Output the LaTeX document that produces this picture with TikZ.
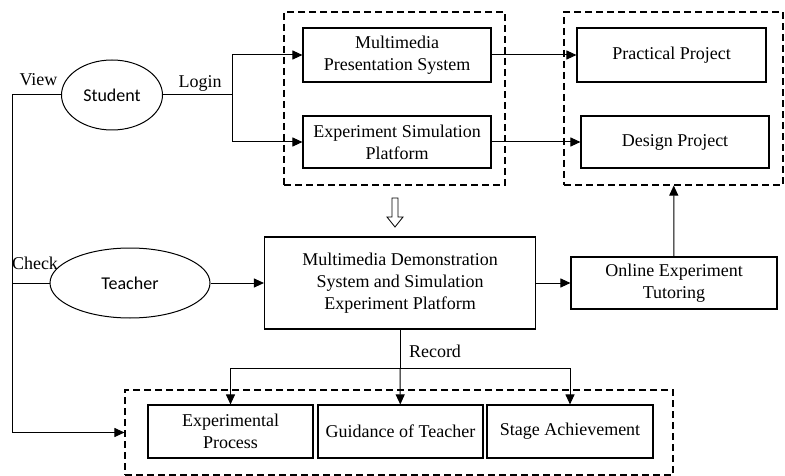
\documentclass[tikz,border=0pt]{standalone}
\usepackage{fontspec}
\setmainfont{Liberation Serif}
\newfontfamily\calibri{Carlito}
\usetikzlibrary{shapes,arrows.meta}
\tikzset{
	box/.style={rectangle,draw,line width=1.1pt,align=center,inner sep=2pt},
	oval/.style={ellipse,draw,line width=1pt,inner sep=0pt,font=\fontsize{18}{22}\calibri},
	group/.style={rectangle,draw,dash pattern=on 7pt off 4pt,line width=1.1pt},
	edge/.style={color=black, line width=1pt},
	diredge/.style={-{Triangle[width=9pt,length=10pt]},color=black, line width=1pt},
	lbl/.style={inner sep=0pt}
}

\begin{document}
\begin{tikzpicture}[x=1pt,y=-1pt,font=\fontsize{18}{22}\selectfont]
		\useasboundingbox (0,0) rectangle (785,476);

		\node [group, minimum width=221, minimum height=173] (10) at (394.5, 98.5) {};
		\node [group, minimum width=219, minimum height=173] (11) at (673.5, 98.5) {};
		\node [group, minimum width=548, minimum height=85] (12) at (399, 432.5) {};

		\node [oval, minimum width=101, minimum height=70] (0) at (112, 95) {Student};
		\node [oval, minimum width=160, minimum height=70] (1) at (130, 283) {Teacher};
		\node [box, minimum width=188, minimum height=54] (2) at (397, 55) {Multimedia\\Presentation System};
		\node [box, minimum width=188, minimum height=52] (3) at (397, 142) {Experiment Simulation\\Platform};
		\node [box, minimum width=189, minimum height=54] (4) at (671.5, 55) {Practical Project};
		\node [box, minimum width=188, minimum height=52] (5) at (675, 142) {Design Project};
		\node [box, minimum width=271, minimum height=92] (6) at (400, 283) {Multimedia Demonstration\\System and Simulation\\Experiment Platform};
		\node [box, minimum width=206, minimum height=52] (7) at (674, 283) {Online Experiment\\Tutoring};
		\node [box, minimum width=165, minimum height=53] (8) at (230.5, 431.5) {Experimental\\Process};
		\node [box, minimum width=165, minimum height=53] (9) at (400.5, 431.5) {Guidance of Teacher};
		\node [box, minimum width=166, minimum height=53] (13) at (570, 431.5) {Stage Achievement};

		\node [lbl] (20) at (38.5, 80) {View};
		\node [lbl] (21) at (200, 83) {Login};
		\node [lbl] (22) at (35, 263) {Check};
		\node [lbl] (23) at (435, 351) {Record};

		\coordinate (30) at (12, 95);
		\coordinate (31) at (12, 283);
		\coordinate (32) at (232, 95);
		\coordinate (33) at (400, 368);

		\draw [edge] (0) to (30);
		\draw [diredge] (30) |- (12.west);
		\draw [edge] (1) to (31);
		\draw [edge] (0) to (32);
		\draw [diredge] (32) |- (2.west);
		\draw [diredge] (32) |- (3.west);
		\draw [diredge] (2) to (4);
		\draw [diredge] (3) to (5);
		\draw [diredge] (1) to (6);
		\draw [diredge] (6) to (7);
		\draw [diredge] (7) to (11);
		\draw [edge] (6) to (33);
		\draw [diredge] (33) to (9);
		\draw [diredge] (33) -| (8.north);
		\draw [diredge] (33) -| (13.north);

		% hollow arrow between the two levels
		\draw [line width=0.8pt] (392,198) -- (398,198) -- (398,217) -- (403,217) -- (395,227) -- (387,217) -- (392,217) -- cycle;
\end{tikzpicture}
\end{document}
